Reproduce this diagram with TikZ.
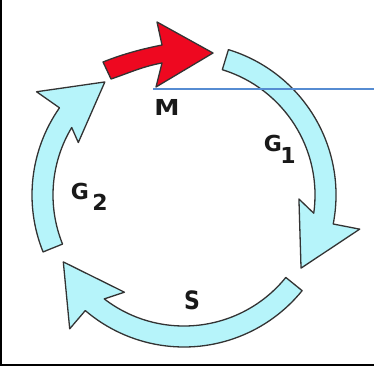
\documentclass[tikz,border=0pt]{standalone}
\usepackage{fontspec}
\setmainfont{DejaVu Sans}
\definecolor{cyc}{RGB}{182,244,250}
\definecolor{mred}{RGB}{238,8,32}
\definecolor{bline}{RGB}{86,140,210}
\tikzset{
  phase/.style={fill=cyc, draw=black!80, line width=1.3pt, line join=round},
  mphase/.style={fill=mred, draw=black!80, line width=1.3pt, line join=round},
  lbl/.style={font=\fontsize{22}{22}\selectfont\bfseries, inner sep=0pt, text=black!90},
  frame/.style={line width=2pt, black}
}
\begin{document}
\begin{tikzpicture}[x=1pt,y=1pt]
\useasboundingbox (-184,-171) rectangle (190,195);
% frame lines
\coordinate (fl1) at (-183,195);
\coordinate (fl2) at (-183,-170);
\coordinate (fb2) at (190,-170);
\draw[frame] (fl1) -- (fl2) -- (fb2);
% G1
\draw[phase] (73:152) arc[start angle=73, end angle=-11, radius=152]
  -- (-11:179) -- (-32:138) -- (-2:115) -- (-8:131)
  arc[start angle=-8, end angle=73, radius=131] -- cycle;
% S
\draw[phase] (-39:152) arc[start angle=-39, end angle=-130.5, radius=152]
  -- (-130.5:176) -- (-151:138) -- (-121.5:114) -- (-127.5:131)
  arc[start angle=-127.5, end angle=-39, radius=131] -- cycle;
% G2
\draw[phase] (-158:152) arc[start angle=-158, end angle=-215, radius=152]
  -- (-215:180) -- (-235:138) -- (-206.4:118) -- (-211:131)
  arc[start angle=-211, end angle=-158, radius=131] -- cycle;
% M
\draw[mphase] (-81,133) .. controls (-61,141) and (-42,146) .. (-22,150)
  -- (-27,173) -- (29,142) -- (-28,108) -- (-22,132)
  .. controls (-42,128.4) and (-56,121.6) .. (-73,116) -- cycle;
% blue line
\coordinate (bl1) at (-31,106);
\coordinate (bl2) at (190,106);
\draw[bline, line width=1.5pt] (bl1) -- (bl2);
% labels
\node[lbl, xscale=1.15] (m) at (-17,88) {M};
\node[lbl] (g1) at (89,52) {G};
\node[lbl] (g1s) at (104,40) {1};
\node[lbl] (g2) at (-104,4) {G};
\node[lbl] (g2s) at (-84,-7) {2};
\node[lbl, yscale=1.15] (s) at (8,-105) {S};
\end{tikzpicture}
\end{document}
